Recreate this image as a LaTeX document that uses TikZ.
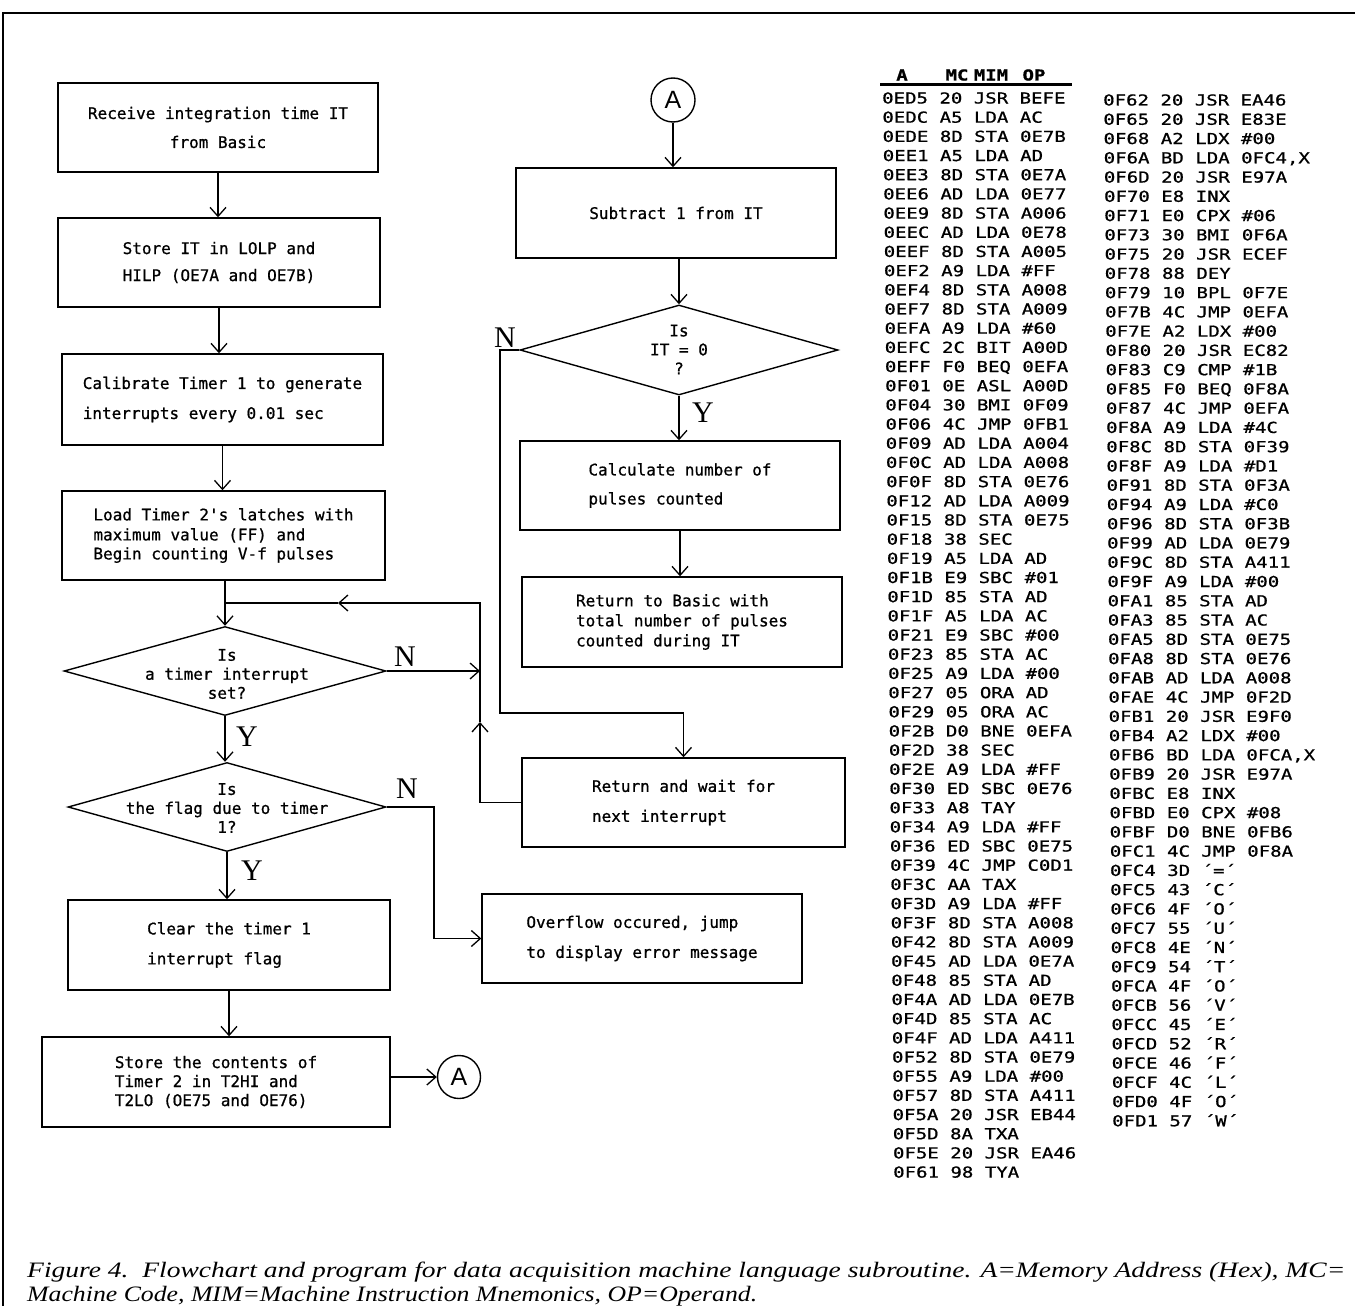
\documentclass[tikz,border=0pt]{standalone}
\usepackage{fontspec}
\usepackage{graphicx}
\usetikzlibrary{shapes.geometric,arrows.meta}
\newfontfamily\flowfont[FakeBold=0.8]{DejaVu Sans Mono}
\newfontfamily\codefont[FakeStretch=1.26,FakeBold=0.8]{DejaVu Sans Mono}
\newfontfamily\capfont{Liberation Serif}
\newfontfamily\ynfont{Liberation Serif}
\newfontfamily\circfont{Liberation Sans}
\tikzset{
  box/.style={draw, line width=1.4pt, inner sep=0pt, align=left,
    font=\flowfont\fontsize{16}{19}\selectfont},
  dia/.style={draw, line width=1.4pt, diamond, inner sep=0pt},
  diatext/.style={align=center, inner sep=0pt, font=\flowfont\fontsize{16}{19}\selectfont},
  circ/.style={draw, line width=1.4pt, circle, inner sep=0pt, font=\circfont\fontsize{25}{28}\selectfont},
  arr/.style={line width=1.3pt, -{Straight Barb[length=9pt,width=16pt,line width=1.3pt]}},
  con/.style={line width=1.3pt},
  yn/.style={font=\ynfont\fontsize{30}{32}\selectfont, inner sep=0pt},
  codetext/.style={font=\codefont\fontsize{15.1}{18}\selectfont, inner sep=0pt, anchor=base west},
  codehead/.style={font=\codefont\bfseries\fontsize{15.1}{18}\selectfont, inner sep=0pt},
  captext/.style={font=\capfont\itshape\fontsize{22}{26}\selectfont, inner sep=0pt, anchor=base west}
}
\begin{document}
\begin{tikzpicture}[x=1pt,y=-1pt]
\useasboundingbox (0,0) rectangle (1355,1306);
\fill[white] (0,0) rectangle (1355,1306);
% frame
\draw[line width=1.6pt] (1355,13) -- (3,13) -- (3,1306);

% left column
\node[box, align=center, minimum width=320, minimum height=89] (b1) at (218,127.5) {Receive integration time IT\\[10pt]from Basic};
\node[box, minimum width=322, minimum height=89] (b2) at (219,262.5) {Store IT in LOLP and\\[8pt]HILP (OE7A and OE7B)};
\node[box, minimum width=321, minimum height=91] (b3) at (222.5,399.5) {Calibrate Timer 1 to generate\\[11pt]interrupts every 0.01 sec};
\node[box, minimum width=323, minimum height=89] (b4) at (223.5,535.5) {Load Timer 2's latches with\\[1pt]maximum value (FF) and\\Begin counting V-f pulses};
\node[dia, minimum width=322, minimum height=89] (d1) at (225,671) {};
\node[diatext] (d1t) at (227,674) {Is\\a timer interrupt\\set?};
\node[dia, minimum width=318, minimum height=89] (d2) at (227,807) {};
\node[diatext] (d2t) at (227,808) {Is\\the flag due to timer\\1?};
\node[box, minimum width=322, minimum height=90] (b5) at (229,945) {Clear the timer 1\\[11pt]interrupt flag};
\node[box, minimum width=348, minimum height=90] (b6) at (216,1082) {Store the contents of\\Timer 2 in T2HI and\\T2LO (OE75 and OE76)};
\node[circ, minimum size=43] (cA1) at (459,1077) {A};

% right column
\node[circ, minimum size=44] (cA2) at (673,100) {A};
\node[box, minimum width=320, minimum height=90] (r1) at (676,213) {Subtract 1 from IT};
\node[dia, minimum width=318, minimum height=90] (dr) at (679,350) {};
\node[diatext] (drt) at (679,349.5) {Is\\IT = 0\\?};
\node[box, minimum width=320, minimum height=89] (r2) at (680,485.5) {Calculate number of\\[10pt]pulses counted};
\node[box, minimum width=320, minimum height=90] (r3) at (682,622) {Return to Basic with\\[1pt]total number of pulses\\[1pt]counted during IT};
\node[box, minimum width=323, minimum height=89] (r4) at (683.5,802.5) {Return and wait for\\[11pt]next interrupt};
\node[box, minimum width=320, minimum height=89] (ov) at (642,938.5) {Overflow occured, jump\\[11pt]to display error message};

% connectors
\draw[arr] (b1.south) -- (b1.south |- b2.north);
\draw[arr] (b2.south) -- (b2.south |- b3.north);
\draw[arr] (b3.south) -- (b3.south |- b4.north);
\draw[arr] (d1.north |- b4.south) -- (d1.north);
\draw[arr] (d1.south) -- (d1.south |- d2.north);
\draw[arr] (d2.south) -- (d2.south |- b5.north);
\draw[arr] (b5.south) -- (b5.south |- b6.north);
\draw[arr] (cA1.west -| b6.east) -- (cA1.west);
\draw[arr] (cA2.south) -- (cA2.south |- r1.north);
\draw[arr] (dr.north |- r1.south) -- (dr.north);
\draw[arr] (dr.south) -- (dr.south |- r2.north);
\draw[arr] (r2.south) -- (r2.south |- r3.north);

\coordinate (lpM) at (480,722);
\coordinate (jnM) at (338,603);
\coordinate (jn) at (d1.north |- jnM);
\draw[arr] (r4.west) -| (lpM);
\draw[arr] (lpM) |- (jnM);
\draw[con] (jnM) -- (jn);
\draw[arr] (d1.east) -- (d1.east -| lpM);

\coordinate (ovk) at (434,870);
\draw[arr] (d2.east) -- (d2.east -| ovk) -- (ovk |- ov.west) -- (ov.west);

\coordinate (drk) at (500,713);
\draw[arr] (dr.west) -| (drk) -| (r4.north);

% Y / N labels
\node[yn] (nl1) at (405,657) {N};
\node[yn] (nl2) at (407,789) {N};
\node[yn] (yl1) at (247,737) {Y};
\node[yn] (yl2) at (252,871) {Y};
\node[yn] (nlr) at (505,338) {N};
\node[yn] (ylr) at (703,413) {Y};

% program listing header
\node[codehead] (hA) at (902,75) {A};
\node[codehead] (hMC) at (957,75) {MC};
\node[codehead] (hMIM) at (991,75) {MIM};
\node[codehead] (hOP) at (1034,75) {OP};
\draw[line width=3pt] (880,84.5) -- (1072,84.5);

\foreach \t [count=\i] in {
{0ED5 20 JSR BEFE},{0EDC A5 LDA AC},{0EDE 8D STA 0E7B},{0EE1 A5 LDA AD},
{0EE3 8D STA 0E7A},{0EE6 AD LDA 0E77},{0EE9 8D STA A006},{0EEC AD LDA 0E78},
{0EEF 8D STA A005},{0EF2 A9 LDA \#FF},{0EF4 8D STA A008},{0EF7 8D STA A009},
{0EFA A9 LDA \#60},{0EFC 2C BIT A00D},{0EFF F0 BEQ 0EFA},{0F01 0E ASL A00D},
{0F04 30 BMI 0F09},{0F06 4C JMP 0FB1},{0F09 AD LDA A004},{0F0C AD LDA A008},
{0F0F 8D STA 0E76},{0F12 AD LDA A009},{0F15 8D STA 0E75},{0F18 38 SEC},
{0F19 A5 LDA AD},{0F1B E9 SBC \#01},{0F1D 85 STA AD},{0F1F A5 LDA AC},
{0F21 E9 SBC \#00},{0F23 85 STA AC},{0F25 A9 LDA \#00},{0F27 05 ORA AD},
{0F29 05 ORA AC},{0F2B D0 BNE 0EFA},{0F2D 38 SEC},{0F2E A9 LDA \#FF},
{0F30 ED SBC 0E76},{0F33 A8 TAY},{0F34 A9 LDA \#FF},{0F36 ED SBC 0E75},
{0F39 4C JMP C0D1},{0F3C AA TAX},{0F3D A9 LDA \#FF},{0F3F 8D STA A008},
{0F42 8D STA A009},{0F45 AD LDA 0E7A},{0F48 85 STA AD},{0F4A AD LDA 0E7B},
{0F4D 85 STA AC},{0F4F AD LDA A411},{0F52 8D STA 0E79},{0F55 A9 LDA \#00},
{0F57 8D STA A411},{0F5A 20 JSR EB44},{0F5D 8A TXA},{0F5E 20 JSR EA46},
{0F61 98 TYA}}{
  \node[codetext] (ca\i) at ({882+11*(\i-1)/56},{103.5+19.18*(\i-1)}) {\t};
}

\foreach \t [count=\i] in {
{0F62 20 JSR EA46},{0F65 20 JSR E83E},{0F68 A2 LDX \#00},{0F6A BD LDA 0FC4,X},
{0F6D 20 JSR E97A},{0F70 E8 INX},{0F71 E0 CPX \#06},{0F73 30 BMI 0F6A},
{0F75 20 JSR ECEF},{0F78 88 DEY},{0F79 10 BPL 0F7E},{0F7B 4C JMP 0EFA},
{0F7E A2 LDX \#00},{0F80 20 JSR EC82},{0F83 C9 CMP \#1B},{0F85 F0 BEQ 0F8A},
{0F87 4C JMP 0EFA},{0F8A A9 LDA \#4C},{0F8C 8D STA 0F39},{0F8F A9 LDA \#D1},
{0F91 8D STA 0F3A},{0F94 A9 LDA \#C0},{0F96 8D STA 0F3B},{0F99 AD LDA 0E79},
{0F9C 8D STA A411},{0F9F A9 LDA \#00},{0FA1 85 STA AD},{0FA3 85 STA AC},
{0FA5 8D STA 0E75},{0FA8 8D STA 0E76},{0FAB AD LDA A008},{0FAE 4C JMP 0F2D},
{0FB1 20 JSR E9F0},{0FB4 A2 LDX \#00},{0FB6 BD LDA 0FCA,X},{0FB9 20 JSR E97A},
{0FBC E8 INX},{0FBD E0 CPX \#08},{0FBF D0 BNE 0FB6},{0FC1 4C JMP 0F8A},
{0FC4 3D ´=´},{0FC5 43 ´C´},{0FC6 4F ´O´},{0FC7 55 ´U´},
{0FC8 4E ´N´},{0FC9 54 ´T´},{0FCA 4F ´O´},{0FCB 56 ´V´},
{0FCC 45 ´E´},{0FCD 52 ´R´},{0FCE 46 ´F´},{0FCF 4C ´L´},
{0FD0 4F ´O´},{0FD1 57 ´W´}}{
  \node[codetext] (cb\i) at ({1103+9*(\i-1)/53},{105.5+19.26*(\i-1)}) {\t};
}

% caption
\node[captext] (cap1) at (27,1277) {\resizebox{1318pt}{\height}{Figure 4.\ \ Flowchart and program for data acquisition machine language subroutine. A=Memory Address (Hex), MC=}};
\node[captext] (cap2) at (27,1301) {\resizebox{730pt}{\height}{Machine Code, MIM=Machine Instruction Mnemonics, OP=Operand.}};
\end{tikzpicture}
\end{document}
